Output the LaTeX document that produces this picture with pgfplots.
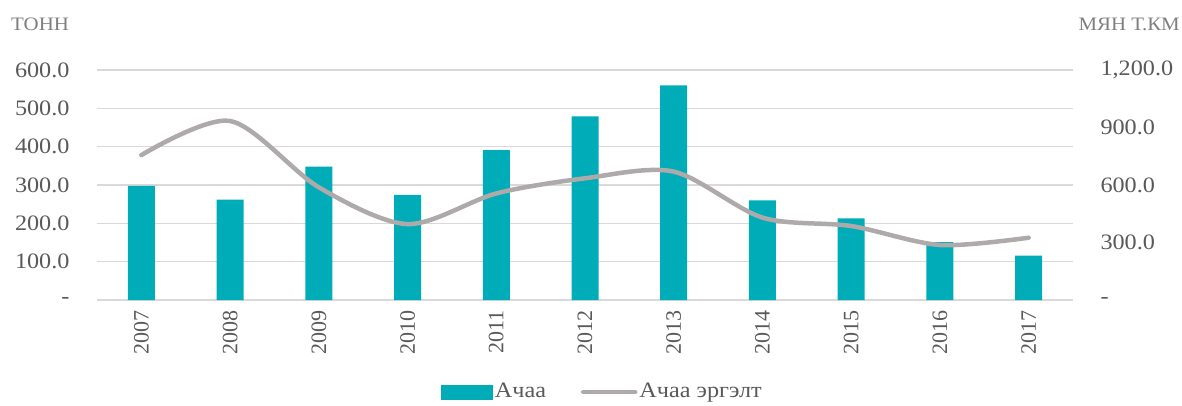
\documentclass[border=0pt]{standalone}
\usepackage{fontspec}
\setmainfont{Liberation Serif}[FakeStretch=1.1]
\newfontfamily\yearfont{Liberation Serif}
\usepackage{pgfplots}
\pgfplotsset{compat=1.18}
\definecolor{barcol}{HTML}{00ACB8}
\definecolor{linecol}{HTML}{AEAAAA}
\definecolor{gridcol}{HTML}{D9D9D9}
\definecolor{txtcol}{HTML}{595959}
\definecolor{unitcol}{HTML}{7F7F7F}
\begin{document}
\fontsize{22}{26}\selectfont
\begin{tikzpicture}
\pgfplotsset{
 common/.style={
  width=976pt, height=230pt, scale only axis,
  xmin=-0.5, xmax=10.5,
  at={(0pt,0pt)}, anchor=south west,
  major tick length=0pt,
  tick label style={text=txtcol},
  axis line style={draw=none},
 }
}
\begin{axis}[common,
  ymin=0, ymax=600,
  ytick={0,100,...,600},
  yticklabels={-,100.0,200.0,300.0,400.0,500.0,600.0},
  yticklabel style={xshift=-20pt},
  xtick={0,...,10},
  xticklabels={2007,2008,2009,2010,2011,2012,2013,2014,2015,2016,2017},
  xticklabel style={yshift=-3pt, rotate=90, anchor=east, font=\yearfont\fontsize{22}{26}\selectfont},
  ymajorgrids, grid style={gridcol, line width=1.2pt},
]
\addplot[ybar, bar width=27pt, fill=barcol, draw=none] coordinates {
 (0,297.5) (1,262) (2,348) (3,274) (4,391) (5,479) (6,560) (7,260) (8,213) (9,151) (10,116)
};
\end{axis}
\begin{axis}[common,
  ymin=0, ymax=1200,
  ytick={0,300,...,1200},
  yticklabels={-,300.0,600.0,900.0,{1,200.0}},
  axis y line*=right,
  axis x line=none,
  yticklabel style={xshift=20pt},
  legend style={at={(0.518,-0.4)}, anchor=center, draw=none, fill=none,
    legend columns=2, text=txtcol,
    /tikz/every even column/.append style={column sep=33pt}},
  legend cell align=left,
]
\addlegendimage{legend image code/.code={\fill[barcol] (0pt,-7pt) rectangle (51pt,7pt);}}
\addlegendentry{Ачаа}
\addplot[linecol, line width=4.5pt, smooth, line cap=round,
  legend image code/.code={\draw[linecol, line width=4.5pt, line cap=round] (0pt,0pt) -- (52pt,0pt);}]
 coordinates {
 (0,756) (1,934) (2,588) (3,396) (4,556) (5,635) (6,670) (7,430) (8,386) (9,287) (10,325)
};
\addlegendentry{Ачаа эргэлт}
\end{axis}
\node[anchor=west, text=unitcol, inner sep=0pt, font=\fontsize{19}{22}\selectfont] at (-86pt,276pt) {ТОНН};
\node[anchor=east, text=unitcol, inner sep=0pt, font=\fontsize{19}{22}\selectfont] at (1083pt,276pt) {МЯН Т.КМ};
\pgfresetboundingbox
\useasboundingbox (-97pt,-105pt) rectangle (1085pt,300pt);
\end{tikzpicture}
\end{document}
